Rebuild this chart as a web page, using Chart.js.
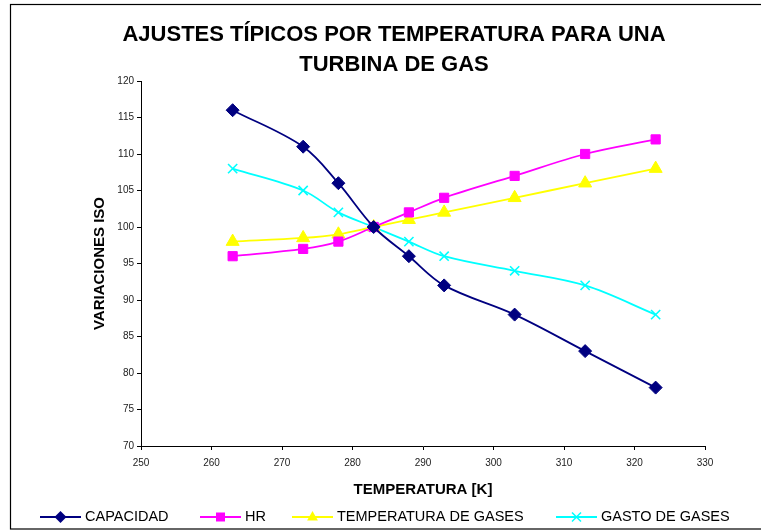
<!DOCTYPE html>
<html>
<head>
<meta charset="utf-8">
<script src="https://cdn.jsdelivr.net/npm/chart.js@4.4.1/dist/chart.umd.min.js"></script>
<style>
html,body{margin:0;padding:0;background:#fff;}
canvas{display:block;}
</style>
</head>
<body>
<canvas id="c" width="761" height="531"></canvas>
<script>
const titleLines = ["AJUSTES TÍPICOS POR TEMPERATURA PARA UNA", "TURBINA DE GAS"];
const xTitle = "TEMPERATURA [K]";
const yTitle = "VARIACIONES ISO";
const temperatures = [263, 273, 278, 283, 288, 293, 303, 313, 323];
const seriesNames = ["CAPACIDAD", "HR", "TEMPERATURA DE GASES", "GASTO DE GASES"];
const capacidad = [116, 111, 106, 100, 96, 92, 88, 83, 78];
const hr = [96, 97, 98, 100, 102, 104, 107, 110, 112];
const tempGases = [98, 98.5, 99, 100, 101, 102, 104, 106, 108];
const gastoGases = [108, 105, 102, 100, 98, 96, 94, 92, 88];
const xTicks = [250, 260, 270, 280, 290, 300, 310, 320, 330];
const yTicks = [70, 75, 80, 85, 90, 95, 100, 105, 110, 115, 120];

const FONT = "'Liberation Sans', Arial, sans-serif";
const styles = [
  {color: '#000080', marker: 'rectRot', radius: 6.5},
  {color: '#FF00FF', marker: 'rect', radius: 6.5},
  {color: '#FFFF00', marker: 'triangle', radius: 7.5},
  {color: '#00FFFF', marker: 'crossRot', radius: 6.5}
];
const allValues = [capacidad, hr, tempGases, gastoGases];

const datasets = allValues.map((vals, i) => ({
  label: seriesNames[i],
  data: temperatures.map((t, j) => ({x: t, y: vals[j]})),
  borderColor: styles[i].color,
  backgroundColor: styles[i].color,
  pointBackgroundColor: styles[i].color,
  pointBorderColor: styles[i].color,
  pointStyle: styles[i].marker,
  pointRadius: styles[i].radius,
  pointBorderWidth: styles[i].marker === 'crossRot' ? 1.6 : 1,
  borderWidth: 1.8,
  tension: 0.35,
  fill: false
}));

function drawMarker(ctx, style, x, y, r, color) {
  ctx.save();
  ctx.fillStyle = color; ctx.strokeStyle = color; ctx.lineWidth = 1.5;
  ctx.beginPath();
  if (style === 'rectRot') {
    ctx.moveTo(x, y - r); ctx.lineTo(x + r, y); ctx.lineTo(x, y + r); ctx.lineTo(x - r, y); ctx.closePath(); ctx.fill();
  } else if (style === 'rect') {
    ctx.rect(x - r*0.75, y - r*0.75, r*1.5, r*1.5); ctx.fill();
  } else if (style === 'triangle') {
    ctx.moveTo(x, y - r); ctx.lineTo(x + r*0.9, y + r*0.6); ctx.lineTo(x - r*0.9, y + r*0.6); ctx.closePath(); ctx.fill();
  } else {
    const d = r*0.75;
    ctx.moveTo(x - d, y - d); ctx.lineTo(x + d, y + d); ctx.moveTo(x + d, y - d); ctx.lineTo(x - d, y + d); ctx.stroke();
  }
  ctx.restore();
}

const decor = {
  id: 'decor',
  afterDraw(chart) {
    const ctx = chart.ctx;
    const ca = chart.chartArea;
    ctx.save();
    ctx.strokeStyle = '#000'; ctx.lineWidth = 1.2;
    ctx.strokeRect(10.5, 4.5, 760, 524.5);
    ctx.fillStyle = '#000';
    ctx.font = "bold 22px " + FONT;
    ctx.textAlign = 'center'; ctx.textBaseline = 'middle';
    ctx.fillText(titleLines[0], 394, 35);
    ctx.fillText(titleLines[1], 394, 65);
    ctx.font = "bold 15px " + FONT;
    ctx.fillText(xTitle, (ca.left + ca.right) / 2, 490);
    ctx.save();
    ctx.translate(100, (ca.top + ca.bottom) / 2);
    ctx.rotate(-Math.PI / 2);
    ctx.fillText(yTitle, 0, 0);
    ctx.restore();
    const legendX = [40, 200, 292, 556];
    const ly = 517;
    ctx.font = "14.5px " + FONT;
    ctx.textAlign = 'left';
    seriesNames.forEach((name, i) => {
      const x0 = legendX[i];
      ctx.strokeStyle = styles[i].color; ctx.lineWidth = 1.8;
      ctx.beginPath(); ctx.moveTo(x0, ly); ctx.lineTo(x0 + 41, ly); ctx.stroke();
      drawMarker(ctx, styles[i].marker, x0 + 20.5, ly, 6, styles[i].color);
      ctx.fillStyle = '#000';
      ctx.fillText(name, x0 + 45, ly);
    });
    ctx.restore();
  }
};

new Chart(document.getElementById('c'), {
  type: 'line',
  data: {datasets},
  options: {
    responsive: false,
    animation: false,
    layout: {padding: {top: 81, right: 56, left: 0, bottom: 0}},
    plugins: {legend: {display: false}, title: {display: false}, tooltip: {enabled: false}},
    scales: {
      x: {
        type: 'linear', min: xTicks[0], max: xTicks[xTicks.length - 1],
        afterBuildTicks: s => { s.ticks = xTicks.map(v => ({value: v})); },
        afterFit: s => { s.height = 85; },
        ticks: {color: '#222', font: {family: FONT, size: 10}, padding: 7, maxRotation: 0},
        grid: {display: true, drawOnChartArea: false, drawTicks: true, tickLength: 4, color: '#000'},
        border: {color: '#000', width: 1}
      },
      y: {
        min: yTicks[0], max: yTicks[yTicks.length - 1],
        afterBuildTicks: s => { s.ticks = yTicks.map(v => ({value: v})); },
        afterFit: s => { s.width = 141; },
        ticks: {color: '#222', font: {family: FONT, size: 10}, padding: 3},
        grid: {display: true, drawOnChartArea: false, drawTicks: true, tickLength: 4, color: '#000'},
        border: {color: '#000', width: 1}
      }
    }
  },
  plugins: [decor]
});
</script>
</body>
</html>
